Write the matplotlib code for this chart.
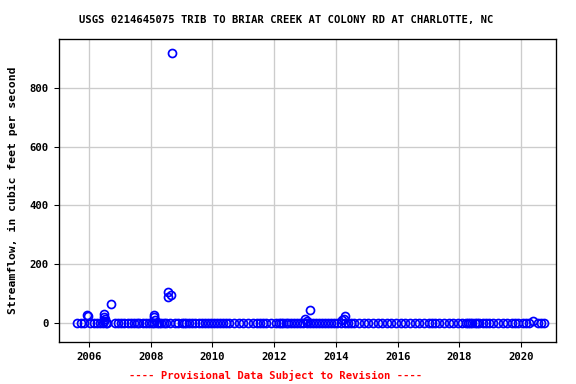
import matplotlib
matplotlib.use("Agg")
import matplotlib.pyplot as plt

# low-flow measurements (decimal year, cfs)
base_years = [2005.62, 2005.75, 2005.85, 2006.05, 2006.15, 2006.25, 2006.35, 2006.45, 2006.55, 2006.6,
              2006.85, 2006.95, 2007.05, 2007.15, 2007.25, 2007.35, 2007.45, 2007.55, 2007.62, 2007.75,
              2007.85, 2007.95, 2008.05, 2008.12, 2008.2, 2008.28, 2008.35, 2008.42, 2008.5, 2008.62,
              2008.78, 2008.9, 2009.0, 2009.08, 2009.15, 2009.25, 2009.35, 2009.45, 2009.55, 2009.65,
              2009.75, 2009.85, 2009.95, 2010.05, 2010.15, 2010.25, 2010.35, 2010.45, 2010.55, 2010.7,
              2010.85, 2011.0, 2011.15, 2011.3, 2011.45, 2011.55, 2011.65, 2011.75, 2011.9, 2012.05,
              2012.15, 2012.22, 2012.3, 2012.38, 2012.45, 2012.55, 2012.65, 2012.75, 2012.85, 2012.95,
              2013.05, 2013.15, 2013.25, 2013.35, 2013.45, 2013.55, 2013.65, 2013.75, 2013.85, 2013.95,
              2014.05, 2014.15, 2014.3, 2014.4, 2014.5, 2014.6, 2014.75, 2014.9, 2015.05, 2015.2,
              2015.35, 2015.5, 2015.65, 2015.8, 2015.95, 2016.1, 2016.25, 2016.4, 2016.55, 2016.7,
              2016.85, 2017.0, 2017.1, 2017.2, 2017.35, 2017.5, 2017.65, 2017.8, 2017.95, 2018.1,
              2018.2, 2018.28, 2018.35, 2018.42, 2018.5, 2018.58, 2018.65, 2018.75, 2018.85, 2018.95,
              2019.1, 2019.25, 2019.4, 2019.55, 2019.7, 2019.8, 2019.9, 2020.05, 2020.15, 2020.25,
              2020.55, 2020.65, 2020.75]
base_flow = [1] * len(base_years)

# higher measurements
peak_years = [2005.95, 2005.97, 2006.48, 2006.5, 2006.52, 2006.5, 2006.7, 2008.1, 2008.12, 2008.15,
              2008.55, 2008.57, 2008.65, 2008.68, 2013.0, 2013.05, 2013.15, 2014.2, 2014.25, 2014.3,
              2020.4]
peak_flow = [28, 25, 32, 20, 12, 5, 65, 28, 20, 10,
             105, 88, 95, 920, 12, 5, 45, 10, 15, 22,
             5]

years = base_years + peak_years
flow = base_flow + peak_flow

mono = "DejaVu Sans Mono"
fig = plt.figure(figsize=(6, 4), dpi=96)
ax = fig.add_axes([59 / 576, 1 - 342 / 384, (556 - 59) / 576, (342 - 39) / 384])

ax.plot(years, flow, linestyle="none", marker="o", markersize=6, markerfacecolor="none",
        markeredgecolor="blue", markeredgewidth=1.3)

ax.set_xlim(2005.03, 2021.13)
ax.set_ylim(-65, 967)
ax.set_xticks([2006, 2008, 2010, 2012, 2014, 2016, 2018, 2020])
ax.set_yticks([0, 200, 400, 600, 800])
ax.grid(True, color="#cccccc", linewidth=1)
ax.set_axisbelow(True)
for s in ax.spines.values():
    s.set_linewidth(1)
ax.tick_params(direction="out", length=4, labelsize=8)
for lab in ax.get_xticklabels() + ax.get_yticklabels():
    lab.set_fontfamily(mono)
    lab.set_fontweight("bold")

ax.set_ylabel("Streamflow, in cubic feet per second", fontfamily=mono, fontweight="bold", fontsize=8.5)
ax.yaxis.set_label_coords(-0.083, 0.5)
fig.text(0.5 - 2 / 576, 1 - 20 / 384, "USGS 0214645075 TRIB TO BRIAR CREEK AT COLONY RD AT CHARLOTTE, NC",
         ha="center", va="center", fontfamily=mono, fontweight="bold", fontsize=7.9)
fig.text(0.5 - 12 / 576, 1 - 375 / 384, "---- Provisional Data Subject to Revision ----",
         ha="center", va="center", color="red", fontfamily=mono, fontweight="bold", fontsize=7.9)

fig.savefig("out.png", dpi=96)
